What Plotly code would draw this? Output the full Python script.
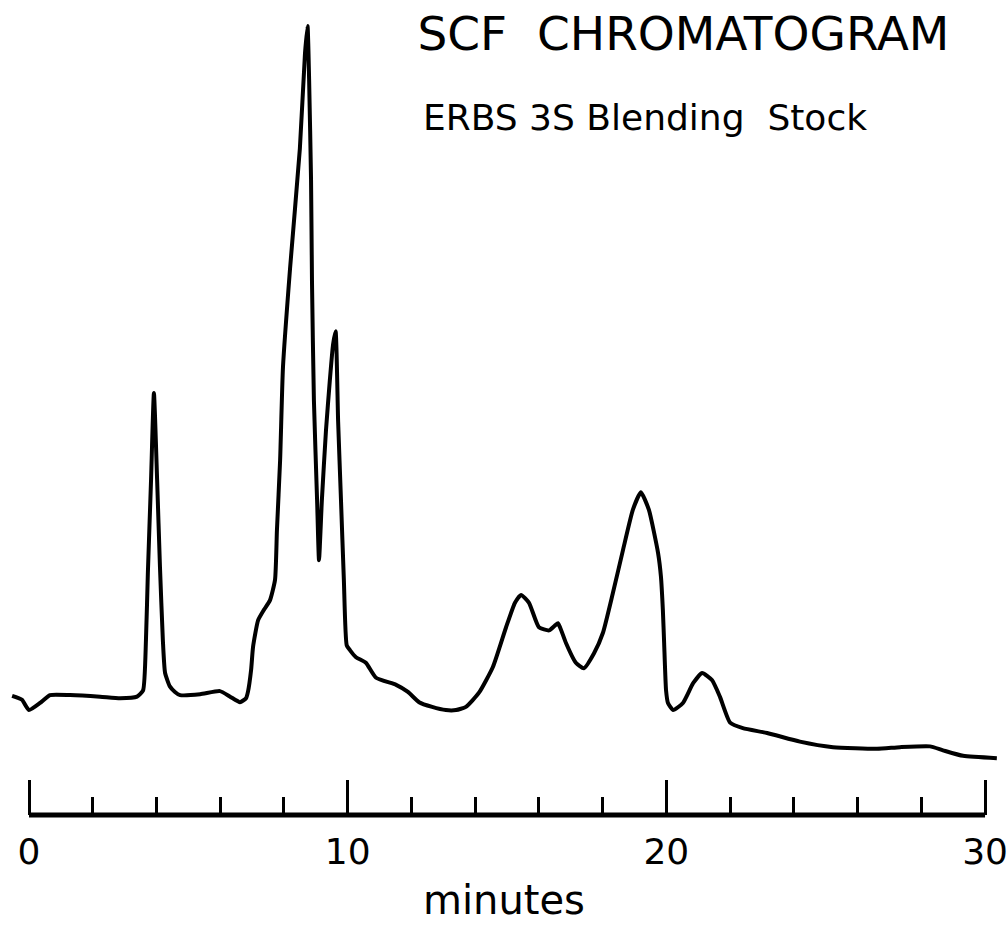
import plotly.graph_objects as go

# Retention time (minutes) and detector response (relative units, tallest peak = 100)
time_min = [
    -0.53, -0.22, 0.00, 0.35, 0.66, 1.29, 2.23, 2.86, 3.39, 3.58,
    3.67, 3.73, 3.83, 3.92, 4.02, 4.11, 4.20, 4.27, 4.42, 4.58,
    4.74, 5.37, 5.99, 6.31, 6.62, 6.81, 6.87, 6.97, 7.03, 7.19,
    7.37, 7.56, 7.72, 7.78, 7.88, 7.97, 8.19, 8.50, 8.66, 8.74,
    8.79, 8.85, 8.88, 8.94, 9.04, 9.10, 9.19, 9.32, 9.44, 9.54,
    9.62, 9.70, 9.79, 9.88, 9.97, 10.07, 10.26, 10.57, 10.89, 11.52,
    11.89, 12.24, 12.65, 13.08, 13.40, 13.71, 14.12, 14.56, 14.97, 15.25,
    15.44, 15.69, 16.00, 16.32, 16.50, 16.60, 16.72, 16.85, 17.16, 17.41,
    17.73, 18.01, 18.32, 18.64, 18.95, 19.20, 19.45, 19.74, 19.83, 19.89,
    19.93, 19.99, 20.05, 20.21, 20.52, 20.84, 21.12, 21.43, 21.68, 22.00,
    22.40, 23.16, 24.19, 25.23, 26.61, 27.33, 28.27, 28.68, 29.31, 30.37,
]
response = [
    15.1, 14.6, 13.3, 14.2, 15.2, 15.2, 15.0, 14.8, 15.0, 15.8,
    22.2, 30.7, 42.5, 53.5, 42.5, 31.4, 22.2, 18.0, 16.3, 15.6,
    15.2, 15.3, 15.7, 15.0, 14.3, 14.8, 15.6, 18.4, 21.3, 24.7,
    26.0, 27.2, 29.8, 36.1, 45.0, 56.8, 69.2, 84.5, 96.5, 100.0,
    93.2, 80.5, 67.6, 52.6, 39.9, 32.3, 39.9, 48.8, 55.1, 59.6,
    61.3, 49.9, 39.9, 29.8, 21.5, 20.9, 20.0, 19.3, 17.4, 16.5,
    15.6, 14.3, 13.7, 13.3, 13.3, 13.7, 15.5, 18.8, 23.8, 26.9,
    27.9, 26.9, 23.8, 23.4, 24.0, 24.3, 23.2, 21.8, 19.3, 18.6,
    20.5, 23.1, 28.1, 33.6, 38.7, 40.9, 38.7, 33.2, 30.2, 26.0,
    21.8, 15.8, 14.2, 13.3, 14.2, 16.7, 18.0, 17.1, 15.0, 11.7,
    11.0, 10.4, 9.3, 8.6, 8.4, 8.6, 8.7, 8.2, 7.5, 7.2,
]

major_ticks = [0, 10, 20, 30]
major_labels = ["0", "10", "20", "30"]
minor_step = 2

title_text = "SCF  CHROMATOGRAM"
subtitle_text = "ERBS 3S Blending  Stock"
x_title = "minutes"

FONT = "DejaVu Sans"

fig = go.Figure()
fig.add_trace(go.Scatter(
    x=time_min, y=response, mode="lines",
    line=dict(color="black", width=4, shape="spline", smoothing=0.5),
    showlegend=False, hoverinfo="skip",
))

# axis baseline from 0 to 30 min
fig.add_shape(type="line", xref="x", yref="paper",
              x0=major_ticks[0], x1=major_ticks[-1], y0=0, y1=0,
              line=dict(color="black", width=5))

fig.update_layout(
    width=1008, height=932,
    margin=dict(l=0, r=0, t=0, b=117),
    paper_bgcolor="white", plot_bgcolor="white",
    font=dict(family=FONT, color="black"),
    title=dict(text=title_text, x=0.678, xanchor="center", xref="paper",
               y=1 - 34 / 932, yanchor="middle", yref="container",
               font=dict(family=FONT, size=47, color="black")),
    annotations=[dict(text=subtitle_text, xref="paper", yref="paper",
                      x=645 / 1008, y=1 - 117 / 815, xanchor="center", yanchor="middle",
                      showarrow=False, font=dict(family=FONT, size=36, color="black"))],
    xaxis=dict(
        range=[-0.91, 30.72], showgrid=False, zeroline=False, showline=False,
        tickmode="array", tickvals=major_ticks, ticktext=major_labels,
        ticks="inside", ticklen=35, tickwidth=3, tickcolor="black",
        tickfont=dict(family=FONT, size=36, color="black"),
        ticklabelstandoff=12, ticklabeloverflow="allow",
        minor=dict(tick0=0, dtick=minor_step, ticks="inside",
                   ticklen=18, tickwidth=3, tickcolor="black", showgrid=False),
        title=dict(text=x_title, font=dict(family=FONT, size=40, color="black"), standoff=14),
    ),
    yaxis=dict(range=[0, 103.3], visible=False, showgrid=False, zeroline=False),
)

fig.write_html("out.html")
